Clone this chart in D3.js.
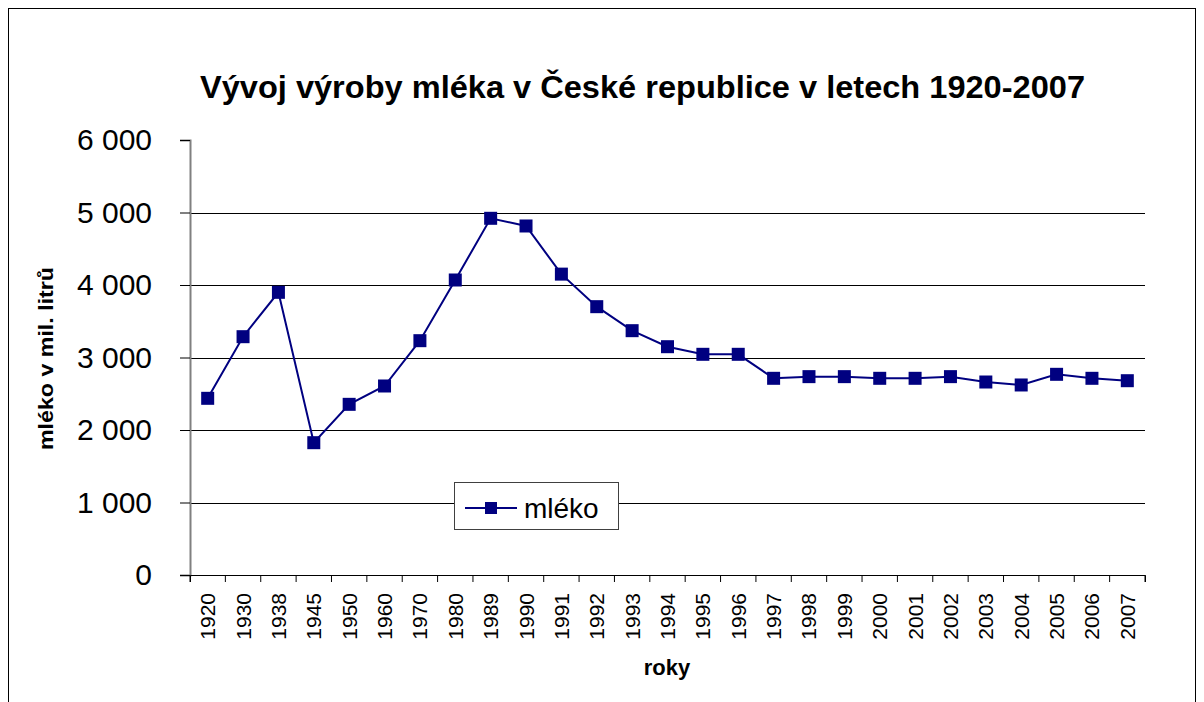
<!DOCTYPE html>
<html>
<head>
<meta charset="utf-8">
<script src="https://cdn.jsdelivr.net/npm/d3@7"></script>
<style>
  body { margin: 0; background: #fff; }
  text { font-family: "Liberation Sans", Arial, sans-serif; }
</style>
</head>
<body>
<script>
'use strict';

const years = ["1920","1930","1938","1945","1950","1960","1970","1980","1989","1990",
  "1991","1992","1993","1994","1995","1996","1997","1998","1999","2000",
  "2001","2002","2003","2004","2005","2006","2007"];
const milk = [2437, 3287, 3899, 1825, 2354, 2607, 3232, 4069, 4920, 4814,
  4150, 3701, 3370, 3149, 3044, 3044, 2713, 2736, 2736, 2713,
  2713, 2736, 2662, 2621, 2768, 2713, 2680];
const yTicks = [0, 1000, 2000, 3000, 4000, 5000, 6000];
const seriesName = "mléko";

function createLineChart(width, height) {
  let svg = d3.create("svg")
    .attr("width", width)
    .attr("height", height);

  // outer frame
  svg.append("rect")
    .attr("x", 8.5).attr("y", 8.5)
    .attr("width", 1187).attr("height", 720)
    .attr("fill", "#fff").attr("stroke", "#000").attr("stroke-width", 1);

  let left = 190, right = 1145, top = 140, bottom = 575;

  let x = d3.scaleBand()
    .domain(years)
    .range([left, right]);

  let y = d3.scaleLinear()
    .domain([0, 6000])
    .range([bottom, top]);

  let fmt = d => d3.format(",")(d).replace(/,/g, " ");

  // gridlines
  svg.append("g")
    .selectAll("line")
    .data(yTicks.filter(d => d > 0 && d < 6000))
    .enter().append("line")
      .attr("x1", left).attr("x2", right)
      .attr("y1", d => Math.round(y(d)) + 0.5)
      .attr("y2", d => Math.round(y(d)) + 0.5)
      .attr("stroke", "#000").attr("stroke-width", 1);

  // y axis
  let gy = svg.append("g")
    .attr("transform", "translate(" + left + ",0)")
    .call(d3.axisLeft(y).tickValues(yTicks).tickSize(10).tickPadding(28).tickFormat(fmt));
  gy.select(".domain").attr("stroke", "#808080").attr("stroke-width", 2);
  gy.selectAll(".tick line").attr("stroke", "#000");
  gy.selectAll("text").attr("font-size", 30).attr("fill", "#000");

  // x axis
  let gx = svg.append("g")
    .attr("transform", "translate(0," + bottom + ")")
    .call(d3.axisBottom(x).tickSize(7).tickSizeOuter(7).tickFormat(""));
  gx.select(".domain").attr("stroke", "#000");
  gx.selectAll(".tick").remove();
  gx.append("g").selectAll("line")
    .data(years.concat(["end"]))
    .enter().append("line")
      .attr("x1", (d, i) => left + i * x.step())
      .attr("x2", (d, i) => left + i * x.step())
      .attr("y1", 0).attr("y2", 7)
      .attr("stroke", "#000");
  gx.append("g").selectAll("text")
    .data(years)
    .enter().append("text")
      .attr("transform", d => "translate(" + (x(d) + x.bandwidth() / 2 + 7.5) + ",18) rotate(-90)")
      .attr("text-anchor", "end")
      .attr("font-size", 21)
      .attr("fill", "#000")
      .text(d => d);

  // line + markers
  let line = d3.line()
    .x((d, i) => x(years[i]) + x.bandwidth() / 2)
    .y(d => y(d));

  svg.append("path")
    .datum(milk)
    .attr("fill", "none")
    .attr("stroke", "#000080")
    .attr("stroke-width", 2)
    .attr("d", line);

  svg.append("g")
    .selectAll("rect")
    .data(milk)
    .enter().append("rect")
      .attr("x", (d, i) => x(years[i]) + x.bandwidth() / 2 - 6.5)
      .attr("y", d => y(d) - 6.5)
      .attr("width", 13).attr("height", 13)
      .attr("fill", "#000080");

  // title
  svg.append("text")
    .attr("x", 200).attr("y", 98)
    .attr("font-size", 31).attr("font-weight", "bold")
    .attr("textLength", 885).attr("lengthAdjust", "spacingAndGlyphs")
    .text("Vývoj výroby mléka v České republice v letech 1920-2007");

  // axis titles
  svg.append("text")
    .attr("transform", "translate(53,450) rotate(-90)")
    .attr("font-size", 21).attr("font-weight", "bold")
    .attr("textLength", 183).attr("lengthAdjust", "spacingAndGlyphs")
    .text("mléko v mil. litrů");

  svg.append("text")
    .attr("x", 667).attr("y", 675)
    .attr("text-anchor", "middle")
    .attr("font-size", 22).attr("font-weight", "bold")
    .text("roky");

  // legend
  let lg = svg.append("g").attr("transform", "translate(454,482)");
  lg.append("rect")
    .attr("x", 0.5).attr("y", 0.5)
    .attr("width", 164).attr("height", 47)
    .attr("fill", "#fff").attr("stroke", "#404040");
  lg.append("line")
    .attr("x1", 11).attr("x2", 63).attr("y1", 26).attr("y2", 26)
    .attr("stroke", "#000080").attr("stroke-width", 2);
  lg.append("rect")
    .attr("x", 31).attr("y", 20).attr("width", 12).attr("height", 12)
    .attr("fill", "#000080");
  lg.append("text")
    .attr("x", 70).attr("y", 36)
    .attr("font-size", 28)
    .text(seriesName);

  d3.select("body").append(() => svg.node());
  return svg.node();
}

createLineChart(1204, 702);
</script>
</body>
</html>
